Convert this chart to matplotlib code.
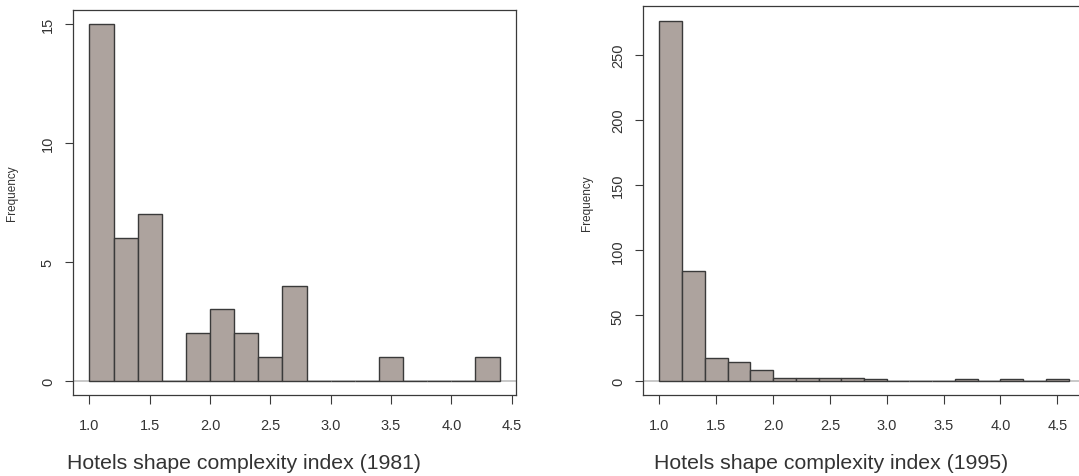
import matplotlib
matplotlib.use("Agg")
import matplotlib.pyplot as plt

plt.rcParams['font.family'] = ['Liberation Sans', 'DejaVu Sans']

# histogram bins (left edges, width 0.2) and counts
edges_1981 = [1.0, 1.2, 1.4, 1.6, 1.8, 2.0, 2.2, 2.4, 2.6, 2.8, 3.0, 3.2, 3.4, 3.6, 3.8, 4.0, 4.2]
counts_1981 = [15, 6, 7, 0, 2, 3, 2, 1, 4, 0, 0, 0, 1, 0, 0, 0, 1]

edges_1995 = [1.0, 1.2, 1.4, 1.6, 1.8, 2.0, 2.2, 2.4, 2.6, 2.8, 3.0, 3.2, 3.4, 3.6, 3.8, 4.0, 4.2, 4.4]
counts_1995 = [276, 84, 17, 14, 8, 2, 2, 2, 2, 1, 0, 0, 0, 1, 0, 1, 0, 1]

bin_width = 0.2
x_ticks = [1.0, 1.5, 2.0, 2.5, 3.0, 3.5, 4.0, 4.5]
x_ticklabels = ["1.0", "1.5", "2.0", "2.5", "3.0", "3.5", "4.0", "4.5"]
yticks_1981 = [0, 5, 10, 15]
yticks_1995 = [0, 50, 100, 150, 200, 250]

BAR = "#ada39e"
EDGE = "#3a3a3a"
TXT = "#333333"

W, H = 1079, 477
fig = plt.figure(figsize=(W / 100, H / 100), dpi=100)


def px_axes(left, top, right, bottom):
    return fig.add_axes([left / W, 1 - bottom / H, (right - left) / W, (bottom - top) / H])


def draw_hist(ax, edges, counts, yticks):
    ax.axhline(0, color="#c4c4c4", lw=1.3, zorder=1)
    ax.bar(edges, counts, width=bin_width, align="edge", color=BAR,
           edgecolor=EDGE, linewidth=1.0, zorder=2)
    lo, hi = edges[0], edges[-1] + bin_width
    pad = (hi - lo) * 0.04
    ax.set_xlim(lo - pad, hi + pad)
    top = max(counts)
    ax.set_ylim(-top * 0.04, top * 1.04)
    ax.set_xticks(x_ticks)
    ax.set_xticklabels(x_ticklabels)
    ax.set_yticks(yticks)
    ax.set_yticklabels([str(v) for v in yticks], rotation=90, va="center")
    ax.tick_params(axis="x", length=6.5, width=0.8, color=EDGE, pad=10,
                   labelsize=10.5, labelcolor=TXT)
    ax.tick_params(axis="y", length=6, width=0.8, color=EDGE, pad=7,
                   labelsize=10.5, labelcolor=TXT)
    for s in ax.spines.values():
        s.set_color(EDGE)
        s.set_linewidth(0.9)


ax1 = px_axes(73, 10.5, 516, 396)
draw_hist(ax1, edges_1981, counts_1981, yticks_1981)

ax2 = px_axes(643, 7.3, 1085, 396)
draw_hist(ax2, edges_1995, counts_1995, yticks_1995)

fig.text(12 / W, 1 - 193 / H, "Frequency", rotation=90, ha="center", va="center",
         fontsize=8.5, color=TXT)
fig.text(587 / W, 1 - 203 / H, "Frequency", rotation=90, ha="center", va="center",
         fontsize=8.5, color=TXT)

fig.text(67 / W, 1 - 469 / H, "Hotels shape complexity index (1981)", ha="left",
         va="baseline", fontsize=15.3, color=TXT)
fig.text(654 / W, 1 - 469 / H, "Hotels shape complexity index (1995)", ha="left",
         va="baseline", fontsize=15.3, color=TXT)

fig.savefig("out.png", dpi=100)
